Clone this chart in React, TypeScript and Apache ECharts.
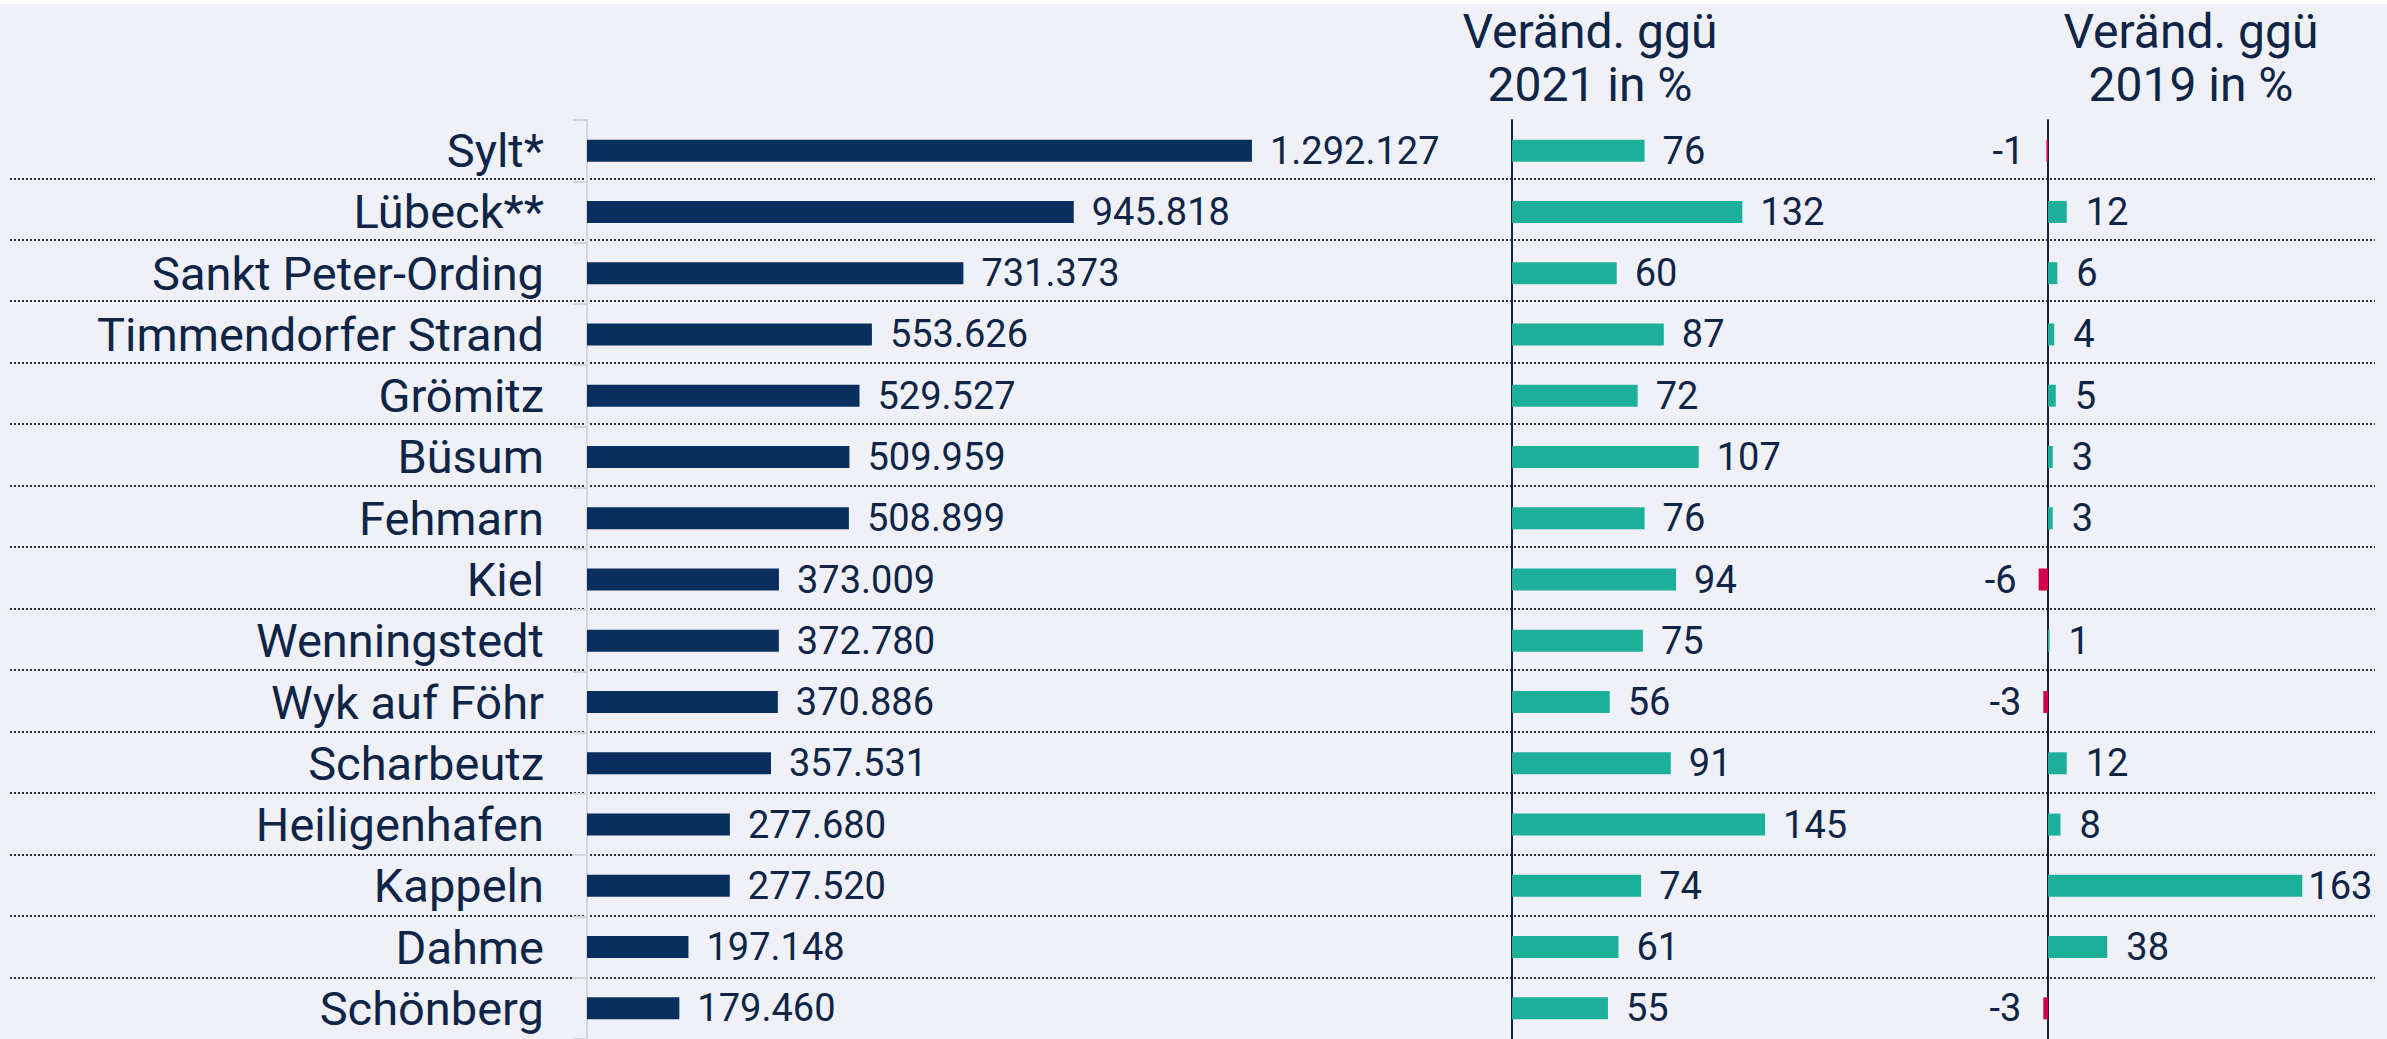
import React, { useEffect, useRef } from "react";
import * as echarts from "echarts";

const categories = [
  "Sylt*",
  "Lübeck**",
  "Sankt Peter-Ording",
  "Timmendorfer Strand",
  "Grömitz",
  "Büsum",
  "Fehmarn",
  "Kiel",
  "Wenningstedt",
  "Wyk auf Föhr",
  "Scharbeutz",
  "Heiligenhafen",
  "Kappeln",
  "Dahme",
  "Schönberg",
];
const overnightStays = [
  1292127, 945818, 731373, 553626, 529527, 509959, 508899, 373009, 372780,
  370886, 357531, 277680, 277520, 197148, 179460,
];
const changeVs2021 = [76, 132, 60, 87, 72, 107, 76, 94, 75, 56, 91, 145, 74, 61, 55];
const changeVs2019 = [-1, 12, 6, 4, 5, 3, 3, -6, 1, -3, 12, 8, 163, 38, -3];
const header2021 = ["Veränd. ggü", "2021 in %"];
const header2019 = ["Veränd. ggü", "2019 in %"];

const NAVY = "#0A2F5E";
const TEXT = "#0E2548";
const TEAL = "#1EAF9B";
const RED = "#D5004C";
const BG = "#EFF1F6";
const FONT = "Roboto";

const fmtDE = (v: number) =>
  String(Math.round(v)).replace(/\B(?=(\d{3})+(?!\d))/g, ".");

export default function App() {
  const ref = useRef<HTMLDivElement>(null);
  useEffect(() => {
    if (!ref.current) return;
    const chart = echarts.init(ref.current, undefined, { renderer: "svg" });
    const rowsTop = 116;
    const rowsH = 924;
    const max2019 = Math.max(...changeVs2019);
    const valueLabel = {
      show: true,
      color: TEXT,
      fontFamily: FONT,
      fontSize: 38,
    };
    const hiddenX = (min: number, max: number, gridIndex: number) => ({
      type: "value",
      gridIndex,
      min,
      max,
      show: false,
      splitLine: { show: false },
    });
    const headerStyle = (lines: string[]) => ({
      text: lines.join("\n"),
      fill: TEXT,
      fontFamily: FONT,
      fontSize: 48,
      lineHeight: 53,
      align: "center",
      verticalAlign: "middle",
      textAlign: "center",
      textVerticalAlign: "middle",
    });
    const option: any = {
      animation: false,
      backgroundColor: BG,
      textStyle: { fontFamily: FONT },
      grid: [
        { left: 10, right: 12, top: 112.8, height: 933.5 },
        { left: 587, top: rowsTop, height: rowsH, width: 669 },
        { left: 1512, top: rowsTop, height: rowsH, width: 261.75 },
        { left: 2016.8, top: rowsTop, height: rowsH, width: 296.4 },
      ],
      xAxis: [
        hiddenX(0, 1, 0),
        hiddenX(0, 1300000, 1),
        hiddenX(0, 150, 2),
        hiddenX(-20, 170, 3),
      ],
      yAxis: [
        {
          type: "value",
          gridIndex: 0,
          inverse: true,
          min: 0,
          max: categories.length,
          interval: 1,
          axisLine: { show: false },
          axisTick: { show: false },
          axisLabel: { show: false },
          splitLine: {
            show: true,
            showMinLine: false,
            showMaxLine: false,
            lineStyle: { color: "#2a2f3a", width: 2, type: [2, 2] },
          },
        },
        {
          type: "category",
          gridIndex: 1,
          inverse: true,
          data: categories,
          axisLine: { show: true, lineStyle: { color: "#d3d5da", width: 2 } },
          axisTick: { show: true, length: 14, lineStyle: { color: "#d3d5da", width: 2 } },
          axisLabel: {
            show: true,
            color: TEXT,
            fontFamily: FONT,
            fontSize: 47,
            margin: 43,
          },
          splitLine: { show: false },
        },
        {
          type: "category",
          gridIndex: 2,
          inverse: true,
          data: categories,
          axisLine: { show: true, onZero: true, lineStyle: { color: TEXT, width: 2 } },
          axisTick: { show: false },
          axisLabel: { show: false },
          splitLine: { show: false },
        },
        {
          type: "category",
          gridIndex: 3,
          inverse: true,
          data: categories,
          axisLine: { show: true, onZero: true, lineStyle: { color: TEXT, width: 2 } },
          axisTick: { show: false },
          axisLabel: { show: false },
          splitLine: { show: false },
        },
      ],
      series: [
        {
          type: "bar",
          xAxisIndex: 1,
          yAxisIndex: 1,
          data: overnightStays,
          barWidth: 22,
          itemStyle: { color: NAVY },
          label: {
            ...valueLabel,
            position: "right",
            distance: 18,
            formatter: (p: any) => fmtDE(p.value),
          },
        },
        {
          type: "bar",
          xAxisIndex: 2,
          yAxisIndex: 2,
          data: changeVs2021.map((v) => ({
            value: v,
            itemStyle: { color: v < 0 ? RED : TEAL },
          })),
          barWidth: 22,
          label: {
            ...valueLabel,
            position: "right",
            distance: 18,
            formatter: (p: any) => String(p.value),
          },
        },
        {
          type: "bar",
          xAxisIndex: 3,
          yAxisIndex: 3,
          data: changeVs2019.map((v) => ({
            value: v,
            itemStyle: { color: v < 0 ? RED : TEAL },
            label: {
              position: v < 0 ? "left" : "right",
              distance: v === max2019 ? 6 : v < 0 ? 22 : 19,
            },
          })),
          barWidth: 22,
          label: {
            ...valueLabel,
            formatter: (p: any) => String(p.value),
          },
        },
      ],
      graphic: [
        { type: "text", x: 1590, y: 53.5, style: headerStyle(header2021) },
        { type: "text", x: 2191, y: 53.5, style: headerStyle(header2019) },
      ],
    };
    chart.setOption(option);
    return () => chart.dispose();
  }, []);
  return (
    <div
      style={{
        position: "fixed",
        left: 0,
        top: 0,
        width: 2387,
        height: 1039,
        background: "#ffffff",
        overflow: "hidden",
      }}
    >
      <div
        ref={ref}
        style={{ position: "absolute", left: 0, top: 4, width: 2387, height: 1035 }}
      />
    </div>
  );
}
